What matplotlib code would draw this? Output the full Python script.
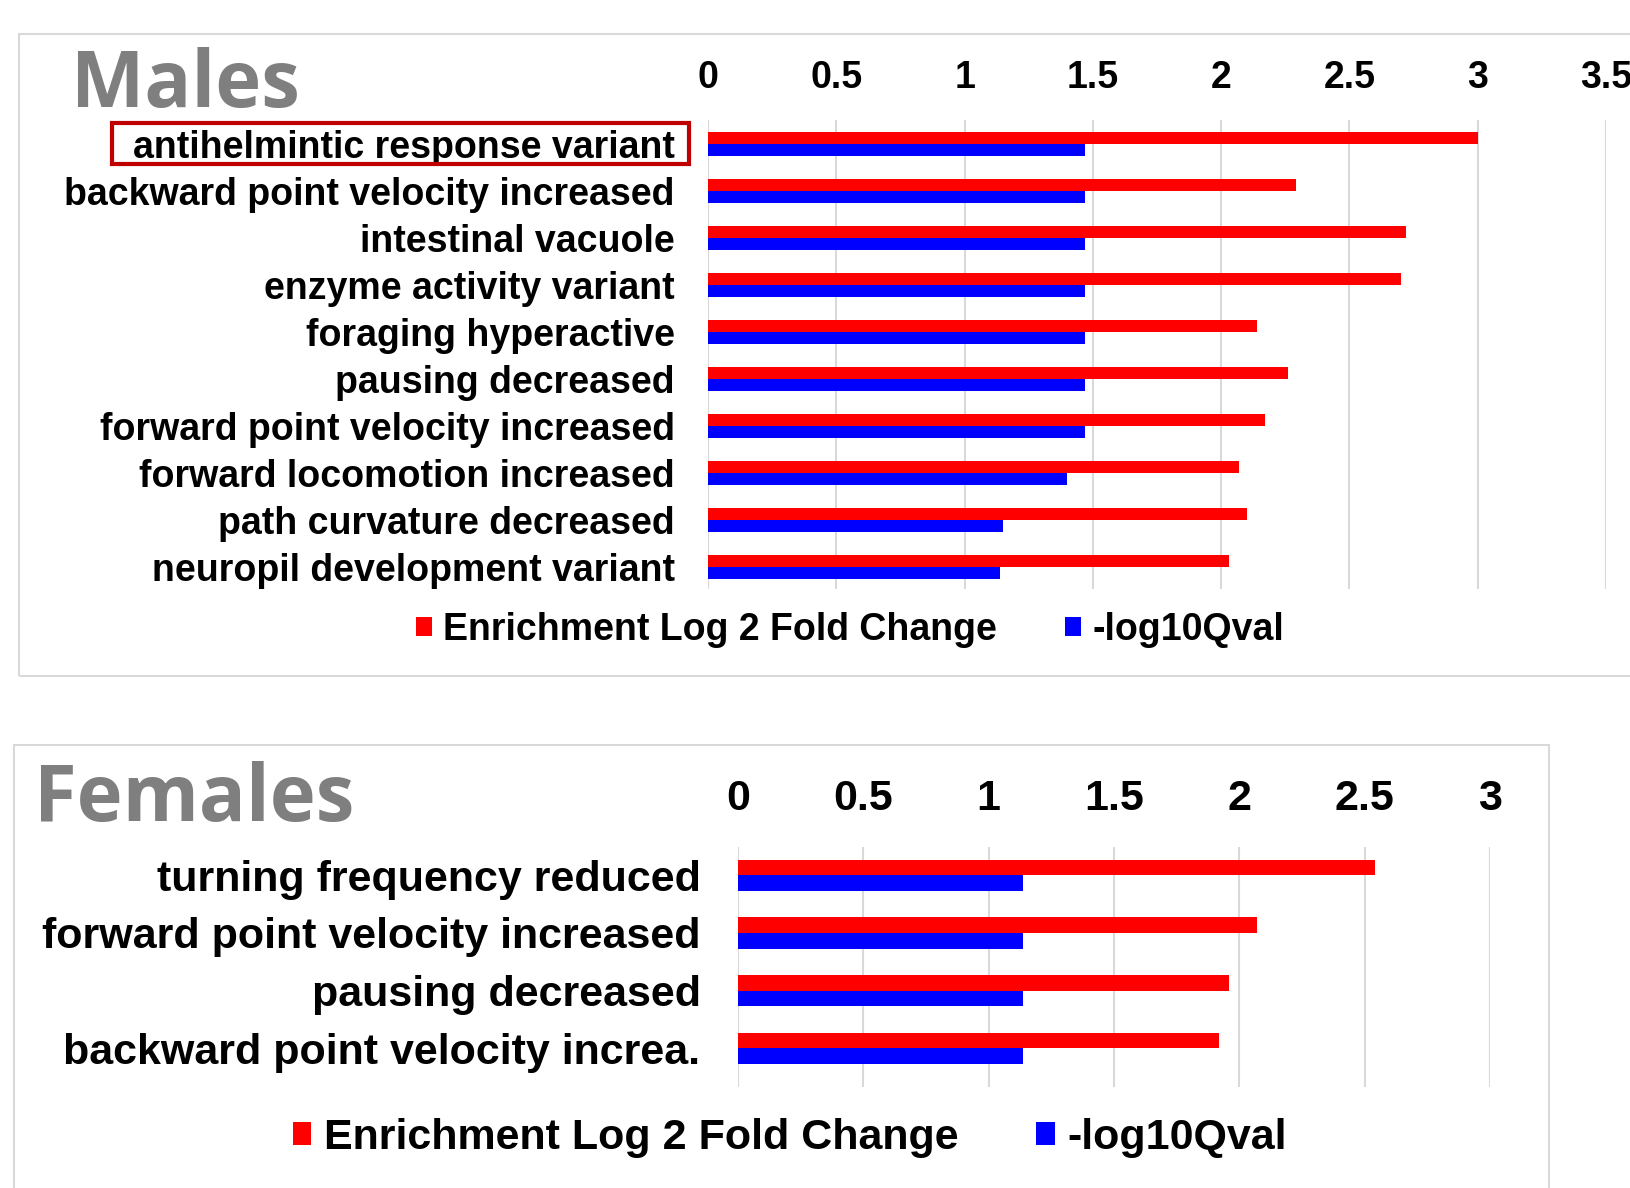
import numpy as np
import matplotlib.pyplot as plt
from matplotlib.patches import Rectangle

# Males panel data (categories top to bottom)
male_terms = [
    "antihelmintic response variant",
    "backward point velocity increased",
    "intestinal vacuole",
    "enzyme activity variant",
    "foraging hyperactive",
    "pausing decreased",
    "forward point velocity increased",
    "forward locomotion increased",
    "path curvature decreased",
    "neuropil development variant",
]
male_log2fc = [3.00, 2.29, 2.72, 2.70, 2.14, 2.26, 2.17, 2.07, 2.10, 2.03]
male_qval = [1.47, 1.47, 1.47, 1.47, 1.47, 1.47, 1.47, 1.40, 1.15, 1.14]
male_ticks = [0, 0.5, 1, 1.5, 2, 2.5, 3, 3.5]
male_ticklabels = ["0", "0.5", "1", "1.5", "2", "2.5", "3", "3.5"]

# Females panel data
female_terms = [
    "turning frequency reduced",
    "forward point velocity increased",
    "pausing decreased",
    "backward point velocity increa.",
]
female_log2fc = [2.54, 2.07, 1.96, 1.92]
female_qval = [1.135, 1.135, 1.135, 1.135]
female_ticks = [0, 0.5, 1, 1.5, 2, 2.5, 3]
female_ticklabels = ["0", "0.5", "1", "1.5", "2", "2.5", "3"]

series_names = ["Enrichment Log 2 Fold Change", "-log10Qval"]
RED = "#FF0000"
BLUE = "#0000FF"
GRID = "#D9D9D9"
TITLE_GRAY = "#7F7F7F"

W, H = 1630, 1188
plt.rcParams['font.family'] = ['Liberation Sans', 'DejaVu Sans']
fig = plt.figure(figsize=(W / 100, H / 100), dpi=100)


def fx(px):
    return px / W


def fy(py):
    return 1 - py / H


def panel(left, right, top, bottom, ylim, terms, fc, qv, ticks, ticklabels, xmax,
          fs, pad_x, pad_y, bar_h):
    ax = fig.add_axes([fx(left), fy(bottom), fx(right - left), (bottom - top) / H])
    y = np.arange(len(terms))
    r = ax.barh(y - bar_h / 2, fc, height=bar_h, color=RED, label=series_names[0], zorder=3)
    b = ax.barh(y + bar_h / 2, qv, height=bar_h, color=BLUE, label=series_names[1], zorder=3)
    ax.set_ylim(*ylim)
    ax.set_xlim(0, xmax)
    ax.set_xticks(ticks)
    ax.set_xticklabels(ticklabels, fontsize=fs, fontweight='bold')
    ax.set_yticks(y)
    ax.set_yticklabels(terms, fontsize=fs, fontweight='bold')
    ax.tick_params(axis='x', top=True, labeltop=True, bottom=False, labelbottom=False,
                   length=0, pad=pad_y)
    ax.tick_params(axis='y', length=0, pad=pad_x)
    ax.grid(axis='x', color=GRID, linewidth=1.5, zorder=0)
    for s in ax.spines.values():
        s.set_visible(False)
    ax.set_facecolor('none')
    return ax, r, b


title_font = ['Open Sans', 'DejaVu Sans']

# ---- Males ----
fig.patches.append(Rectangle((fx(19), fy(676)), fx(1700 - 19), (676 - 34) / H,
                             transform=fig.transFigure, fill=False, ec=GRID, lw=1.5))
ax1, r1, b1 = panel(708, 1606, 120, 589, (9.47, -0.51), male_terms, male_log2fc, male_qval,
                    male_ticks, male_ticklabels, 3.5, 27, 24, 17.3, 0.26)
fig.text(fx(71), fy(107), "Males", fontsize=56, fontweight='bold', color=TITLE_GRAY,
         family=title_font, va='baseline', ha='left')
fig.patches.append(Rectangle((fx(112), fy(164)), fx(689 - 112), (164 - 123) / H,
                             transform=fig.transFigure, fill=False, ec="#C00000", lw=3))
fig.legend(handles=[r1, b1], loc='center', bbox_to_anchor=(fx(850), fy(630)),
           ncol=2, frameon=False, prop={'size': 27, 'weight': 'bold'},
           handlelength=0.43, handleheight=0.43, handletextpad=0.3,
           columnspacing=1.8, borderpad=0)

# ---- Females ----
fig.patches.append(Rectangle((fx(14), fy(1250)), fx(1549 - 14), (1250 - 745) / H,
                             transform=fig.transFigure, fill=False, ec=GRID, lw=1.5))
ax2, r2, b2 = panel(738, 1490, 847, 1087, (3.67, -0.49), female_terms, female_log2fc,
                    female_qval, female_ticks, female_ticklabels, 3, 31, 27, 20.4, 0.27)
fig.text(fx(34), fy(821), "Females", fontsize=56, fontweight='bold', color=TITLE_GRAY,
         family=title_font, va='baseline', ha='left')
fig.legend(handles=[r2, b2], loc='center', bbox_to_anchor=(fx(790), fy(1138)),
           ncol=2, frameon=False, prop={'size': 31, 'weight': 'bold'},
           handlelength=0.43, handleheight=0.43, handletextpad=0.3,
           columnspacing=1.8, borderpad=0)

fig.savefig("out.png", dpi=100)
